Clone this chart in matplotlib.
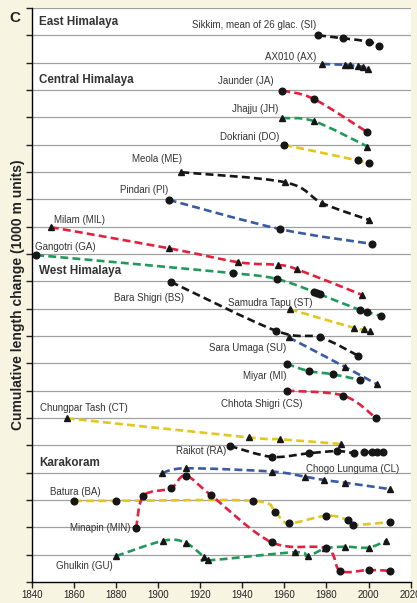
import matplotlib

matplotlib.use("Agg")
import matplotlib.pyplot as plt
from matplotlib.path import Path
from matplotlib.patches import PathPatch

plt.rcParams["font.family"] = ["Liberation Sans Narrow", "Liberation Sans", "DejaVu Sans"]

# cumulative length change, 1000 m per grid step; each glacier sits on its own offset
si_years = [1976, 1988, 2000, 2005]
si_len = [20.0, 19.89, 19.77, 19.62]
ax_years = [1978, 1989, 1991, 1995, 1997.5, 1999.8]
ax_len = [18.95, 18.92, 18.9, 18.88, 18.84, 18.77]
ja_years = [1959, 1974, 1999.5]
ja_len = [17.98, 17.67, 16.45]
jh_years = [1959, 1974, 1999.5]
jh_len = [16.97, 16.86, 15.93]
do_years = [1960, 1995, 2000]
do_len = [15.99, 15.42, 15.32]
me_years = [1911, 1960.5, 1978, 2000]
me_len = [14.99, 14.62, 13.86, 13.25]
pi_years = [1905, 1958, 2001.5]
pi_len = [13.98, 12.91, 12.37]
mil_years = [1849, 1905, 1938, 1957, 1966, 1997]
mil_len = [12.98, 12.21, 11.70, 11.60, 11.44, 10.50]
ga_years = [1842, 1935.5, 1956.5, 1974, 1975.5, 1977, 1996, 1999.5, 2006]
ga_len = [11.96, 11.30, 11.08, 10.62, 10.58, 10.52, 9.95, 9.87, 9.73]
bs_years = [1906, 1956, 1977, 1995]
bs_len = [10.98, 9.19, 8.95, 8.28]
st_years = [1962.5, 1993, 1998, 2000.5]
st_len = [9.98, 9.30, 9.25, 9.19]
su_years = [1962, 1989, 2004]
su_len = [8.95, 7.86, 7.23]
mi_years = [1961, 1971.5, 1983, 1996]
mi_len = [7.98, 7.72, 7.60, 7.39]
cs_years = [1961, 1988, 2003.5]
cs_len = [7.0, 6.82, 6.0]
ct_years = [1856.5, 1943, 1958, 1987]
ct_len = [5.99, 5.29, 5.22, 5.05]
ra_years = [1934, 1954, 1971.5, 1985, 1993, 1998, 2001.5, 2004, 2007]
ra_len = [4.98, 4.58, 4.71, 4.79, 4.72, 4.74, 4.76, 4.76, 4.76]
cl_years = [1902, 1913, 1954, 1970, 1979, 1989, 2010]
cl_len = [3.98, 4.16, 4.04, 3.85, 3.73, 3.63, 3.40]
ba_years = [1860, 1880, 1945, 1955.5, 1962, 1980, 1990, 1992.5, 2010]
ba_len = [2.97, 2.97, 2.97, 2.55, 2.15, 2.43, 2.27, 2.09, 2.19]
min_years = [1889.5, 1893, 1906, 1913, 1925, 1954, 1980, 1986.5, 2000, 2010]
min_len = [1.96, 3.15, 3.43, 3.89, 3.18, 1.45, 1.23, 0.41, 0.44, 0.41]
gu_years = [1880, 1902.5, 1913, 1922, 1923.5, 1965, 1971, 1979.5, 1989, 2000, 2008.5]
gu_len = [0.95, 1.51, 1.44, 0.90, 0.79, 1.09, 0.95, 1.23, 1.29, 1.26, 1.51]

RED = "#e3203f"
GREEN = "#21995a"
BLUE = "#3a5aa3"
YELLOW = "#e2c71e"
BLACK = "#161616"

series = [
    (si_years, si_len, BLACK, "o"),
    (ax_years, ax_len, BLUE, "^"),
    (ja_years, ja_len, RED, "o"),
    (jh_years, jh_len, GREEN, "^"),
    (do_years, do_len, YELLOW, "o"),
    (me_years, me_len, BLACK, "^"),
    (pi_years, pi_len, BLUE, "o"),
    (mil_years, mil_len, RED, "^"),
    (ga_years, ga_len, GREEN, "o"),
    (bs_years, bs_len, BLACK, "o"),
    (st_years, st_len, YELLOW, "^"),
    (su_years, su_len, BLUE, "^"),
    (mi_years, mi_len, GREEN, "o"),
    (cs_years, cs_len, RED, "o"),
    (ct_years, ct_len, YELLOW, "^"),
    (ra_years, ra_len, BLACK, "o"),
    (cl_years, cl_len, BLUE, "^"),
    (ba_years, ba_len, YELLOW, "o"),
    (min_years, min_len, RED, "o"),
    (gu_years, gu_len, GREEN, "^"),
]

# glacier names: text, x, y, alignment
names = [
    ("Sikkim, mean of 26 glac. (SI)", 1975.2, 20.38, "right"),
    ("AX010 (AX)", 1975.2, 19.22, "right"),
    ("Jaunder (JA)", 1955.0, 18.33, "right"),
    ("Jhajju (JH)", 1957.0, 17.30, "right"),
    ("Dokriani (DO)", 1957.8, 16.29, "right"),
    ("Meola (ME)", 1911.3, 15.48, "right"),
    ("Pindari (PI)", 1904.6, 14.34, "right"),
    ("Milam (MIL)", 1850.6, 13.25, "left"),
    ("Gangotri (GA)", 1841.4, 12.27, "left"),
    ("Bara Shigri (BS)", 1912.5, 10.38, "right"),
    ("Samudra Tapu (ST)", 1973.5, 10.22, "right"),
    ("Sara Umaga (SU)", 1961.0, 8.55, "right"),
    ("Miyar (MI)", 1961.0, 7.55, "right"),
    ("Chhota Shigri (CS)", 1968.4, 6.51, "right"),
    ("Chungpar Tash (CT)", 1843.8, 6.35, "left"),
    ("Raikot (RA)", 1932.4, 4.80, "right"),
    ("Chogo Lunguma (CL)", 2014.8, 4.13, "right"),
    ("Batura (BA)", 1848.6, 3.30, "left"),
    ("Minapin (MIN)", 1886.7, 1.96, "right"),
    ("Ghulkin (GU)", 1878.4, 0.60, "right"),
]
regions = [
    ("East Himalaya", 20.5),
    ("Central Himalaya", 18.37),
    ("West Himalaya", 11.39),
    ("Karakoram", 4.37),
]


def smooth_path(xs, ys):
    """Catmull-Rom curve through the points, as cubic Bezier segments."""
    pts = list(zip(xs, ys))
    verts = [pts[0]]
    codes = [Path.MOVETO]
    n = len(pts)
    for i in range(n - 1):
        p0 = pts[max(i - 1, 0)]
        p1 = pts[i]
        p2 = pts[i + 1]
        p3 = pts[min(i + 2, n - 1)]
        c1 = (p1[0] + (p2[0] - p0[0]) / 6, p1[1] + (p2[1] - p0[1]) / 6)
        c2 = (p2[0] - (p3[0] - p1[0]) / 6, p2[1] - (p3[1] - p1[1]) / 6)
        verts += [c1, c2, p2]
        codes += [Path.CURVE4] * 3
    return Path(verts, codes)


fig = plt.figure(figsize=(4.17, 6.03), dpi=100)
fig.patch.set_facecolor("#f7f4e2")
ax = fig.add_axes([0.0767, 0.0348, 0.908, 0.952])
ax.set_facecolor("white")
ax.set_xlim(1840, 2020)
ax.set_ylim(0, 21)

for k in range(1, 22):
    ax.axhline(k, color="#a0a0a0", lw=0.9, zorder=1)

for xs, ys, col, mk in series:
    ax.add_patch(PathPatch(smooth_path(xs, ys), fill=False, edgecolor=col,
                           lw=1.9, linestyle=(0, (3, 1.6)), zorder=3))
    ax.plot(xs, ys, linestyle="none", marker=mk, color=BLACK,
            markersize=4.8 if mk == "o" else 3.9, zorder=4)

for txt, x, y, ha in names:
    ax.text(x, y, txt, ha=ha, va="center", fontsize=7, color="#333333", zorder=5)
for txt, y in regions:
    ax.text(1843.5, y, txt, ha="left", va="center", fontsize=8.4,
            fontweight="bold", color="#333333", zorder=5)

ax.set_xticks(range(1840, 2021, 20))
ax.set_yticks(range(0, 22))
ax.set_yticklabels([])
ax.tick_params(axis="x", labelsize=7, length=4, width=1, colors="#222222",
               pad=2)
ax.tick_params(axis="y", length=4, width=1, colors="#222222")
for s in ("top", "right"):
    ax.spines[s].set_visible(False)
ax.spines["left"].set_linewidth(1)
ax.spines["bottom"].set_linewidth(1)

fig.text(0.043, 0.512, "Cumulative length change (1000 m units)", rotation=90,
         ha="center", va="center", fontsize=10, fontweight="bold",
         family=["Liberation Sans", "DejaVu Sans"], color="#222222")
fig.text(0.036, 0.970, "C", ha="center", va="center", fontsize=11,
         fontweight="bold", family=["Liberation Sans", "DejaVu Sans"],
         color="#222222")

fig.savefig("out.png", dpi=100, facecolor=fig.get_facecolor())
